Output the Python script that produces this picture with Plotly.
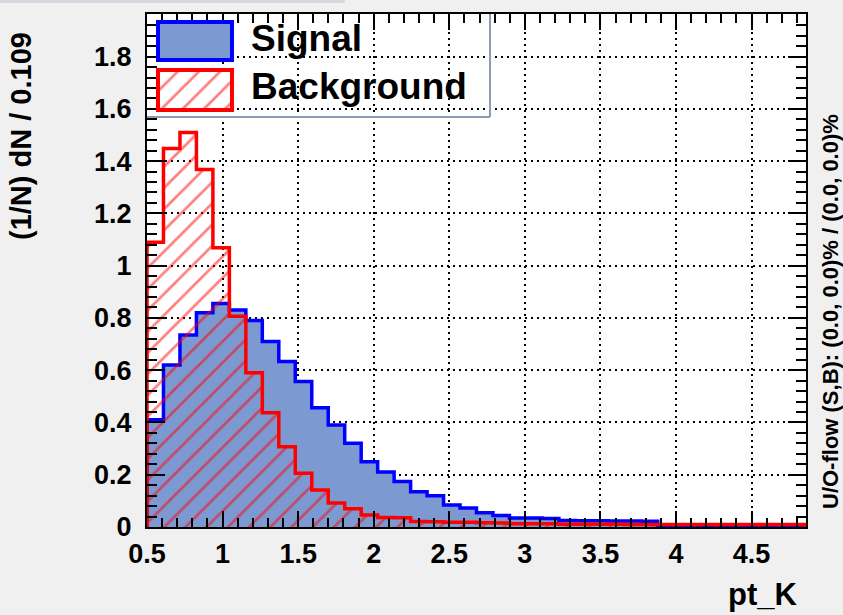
import plotly.graph_objects as go

# ---- data ----
x_min = 0.5
bin_width = 0.109
n_bins = 40
bin_edges = [round(x_min + bin_width * i, 4) for i in range(n_bins + 1)]

signal = [0.41, 0.62, 0.735, 0.82, 0.855, 0.83, 0.79, 0.71, 0.633, 0.557,
          0.456, 0.39, 0.32, 0.25, 0.21, 0.174, 0.135, 0.12, 0.084, 0.073,
          0.055, 0.044, 0.034, 0.034, 0.033, 0.025, 0.024, 0.024, 0.023, 0.023,
          0.022, 0.006, 0.006, 0.005, 0.005, 0.004, 0.004, 0.003, 0.003, 0.003]

background = [1.09, 1.448, 1.51, 1.368, 1.069, 0.806, 0.59, 0.437, 0.307, 0.206,
              0.142, 0.092, 0.07, 0.046, 0.036, 0.035, 0.021, 0.02, 0.018, 0.018,
              0.016, 0.015, 0.012, 0.012, 0.012, 0.011, 0.011, 0.011, 0.011, 0.01,
              0.01, 0.01, 0.01, 0.01, 0.01, 0.01, 0.01, 0.01, 0.01, 0.01]

x_ticks = [0.5, 1, 1.5, 2, 2.5, 3, 3.5, 4, 4.5]
x_tick_labels = ["0.5", "1", "1.5", "2", "2.5", "3", "3.5", "4", "4.5"]
y_ticks = [0, 0.2, 0.4, 0.6, 0.8, 1, 1.2, 1.4, 1.6, 1.8]
y_tick_labels = ["0", "0.2", "0.4", "0.6", "0.8", "1", "1.2", "1.4", "1.6", "1.8"]

series_names = ["Signal", "Background"]
x_title = "pt_K"
y_title = "(1/N) dN / 0.109"
overflow_text = "U/O-flow (S,B): (0.0, 0.0)% / (0.0, 0.0)%"

FONT = "Liberation Sans, Arial, sans-serif"
BLUE = "rgb(0,0,255)"
BLUE_FILL = "rgb(125,153,209)"
RED = "rgb(255,0,0)"


def step_xy(values):
    xs = [bin_edges[0]] + bin_edges + [bin_edges[-1]]
    ys = [0] + list(values) + [values[-1], 0]
    return xs, ys


fig = go.Figure()

sx, sy = step_xy(signal)
fig.add_trace(go.Scatter(
    x=sx, y=sy, mode="lines", line=dict(color=BLUE, width=3.5, shape="hv"),
    fill="tozeroy", fillcolor=BLUE_FILL, name=series_names[0], showlegend=False,
))

bx, by = step_xy(background)
fig.add_trace(go.Scatter(
    x=bx, y=by, mode="lines", line=dict(color=RED, width=3.5, shape="hv"),
    fill="tozeroy", fillcolor="rgba(0,0,0,0)",
    fillpattern=dict(shape="/", fgcolor=RED, bgcolor="rgba(0,0,0,0)", size=15, solidity=0.18),
    name=series_names[1], showlegend=False,
))

L = 147.0
R = 806.0
T = 14.0
B = 527.0
W = R - L
H = B - T


def px(xp):
    return (xp - L) / W


def py(yp):
    return (B - yp) / H


# legend swatch for hatched background (inset axes)
fig.add_trace(go.Scatter(
    x=[0, 1, 1, 0, 0], y=[0, 0, 1, 1, 0], mode="lines", line=dict(width=0),
    fill="toself", fillcolor="rgba(255,255,255,1)",
    fillpattern=dict(shape="/", fgcolor=RED, bgcolor="white", size=15, solidity=0.18),
    xaxis="x2", yaxis="y2", showlegend=False, hoverinfo="skip",
))

axis_common = dict(
    showline=True, linecolor="black", linewidth=2, mirror="ticks",
    ticks="inside", tickcolor="black", tickwidth=2,
    showgrid=True, gridcolor="black", gridwidth=1.5, griddash="2px,4px",
    zeroline=False,
    tickfont=dict(family=FONT, size=27, color="black", weight="bold"),
)

fig.update_layout(
    width=843, height=615,
    margin=dict(l=L, r=843 - R, t=T, b=615 - B),
    paper_bgcolor="#f0f0f0",
    plot_bgcolor="white",
    xaxis=dict(
        range=[bin_edges[0], bin_edges[-1]],
        tickvals=x_ticks, ticktext=x_tick_labels, ticklen=16,
        minor=dict(dtick=0.1, tick0=0.5, ticklen=9, ticks="inside", tickcolor="black", tickwidth=2, showgrid=False),
        ticklabelstandoff=2,
        **axis_common,
    ),
    yaxis=dict(
        range=[0, 1.963],
        tickvals=y_ticks, ticktext=y_tick_labels, ticklen=18,
        minor=dict(dtick=0.04, tick0=0, ticklen=10, ticks="inside", tickcolor="black", tickwidth=2, showgrid=False),
        ticklabelstandoff=8,
        **axis_common,
    ),
    xaxis2=dict(domain=[px(158), px(232)], range=[0, 1], visible=False, anchor="y2", showgrid=False),
    yaxis2=dict(domain=[py(110), py(70)], range=[0, 1], visible=False, anchor="x2", showgrid=False),
    showlegend=False,
)

shapes = [
    # legend frame (right and bottom edges)
    dict(type="line", xref="paper", yref="paper", x0=px(490), x1=px(490), y0=py(14), y1=py(117),
         line=dict(color="#8d9bb3", width=2)),
    dict(type="line", xref="paper", yref="paper", x0=px(147), x1=px(490), y0=py(117), y1=py(117),
         line=dict(color="#8d9bb3", width=2)),
    # signal swatch
    dict(type="rect", xref="paper", yref="paper", x0=px(158), x1=px(232), y0=py(60), y1=py(22),
         fillcolor=BLUE_FILL, line=dict(color=BLUE, width=4)),
    # background swatch border
    dict(type="rect", xref="paper", yref="paper", x0=px(158), x1=px(232), y0=py(110), y1=py(70),
         line=dict(color=RED, width=4)),
    # thin header strip at top-left
    dict(type="rect", xref="paper", yref="paper", x0=px(0), x1=px(345), y0=py(3), y1=py(0),
         fillcolor="#d5d9e0", line=dict(width=0), layer="below"),
]
fig.update_layout(shapes=shapes)

ann_font = dict(family=FONT, color="black", weight="bold")
annotations = [
    dict(text=series_names[0], x=px(249), y=py(38), xref="paper", yref="paper",
         xanchor="left", yanchor="middle", showarrow=False, font=dict(size=37, **ann_font)),
    dict(text=series_names[1], x=px(249), y=py(86), xref="paper", yref="paper",
         xanchor="left", yanchor="middle", showarrow=False, font=dict(size=37, **ann_font)),
    dict(text=y_title, x=px(21), y=py(136), xref="paper", yref="paper", textangle=-90,
         xanchor="center", yanchor="middle", showarrow=False, font=dict(size=29, **ann_font)),
    dict(text=x_title, x=px(800), y=py(594), xref="paper", yref="paper",
         xanchor="right", yanchor="middle", showarrow=False, font=dict(size=31, **ann_font)),
    dict(text=overflow_text, x=px(830), y=py(312), xref="paper", yref="paper", textangle=-90,
         xanchor="center", yanchor="middle", showarrow=False, font=dict(size=22, **ann_font)),
]
fig.update_layout(annotations=annotations)

fig.write_html("out.html")
